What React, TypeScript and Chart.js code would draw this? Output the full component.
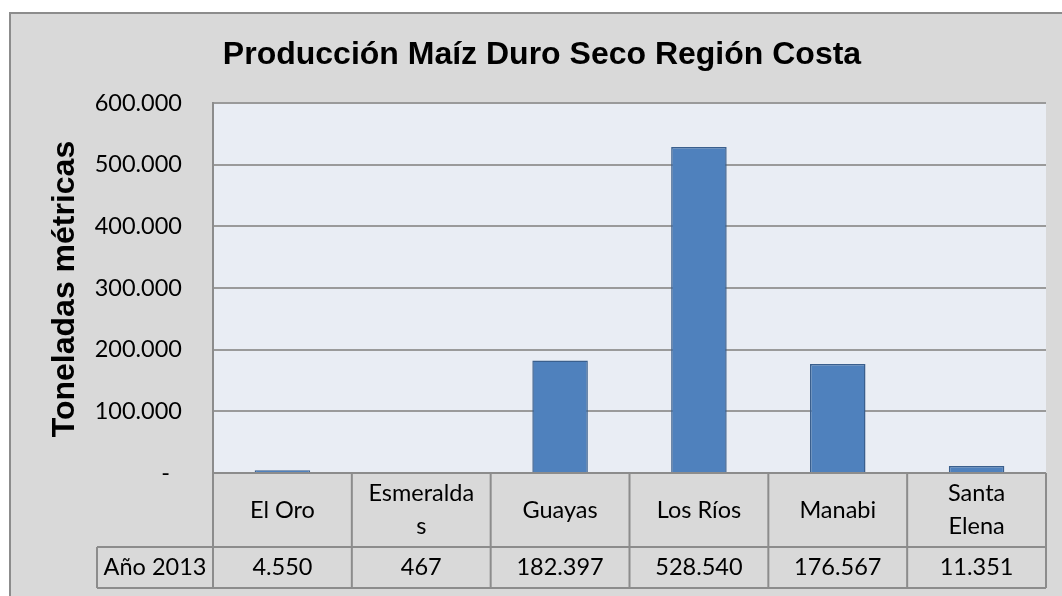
import React, { useEffect, useRef } from "react";
import { Chart, registerables } from "chart.js";

Chart.register(...registerables);

const chartTitle = "Producción Maíz Duro Seco Región Costa";
const yAxisTitle = "Toneladas métricas";
const seriesName = "Año 2013";
const categories = ["El Oro", "Esmeraldas", "Guayas", "Los Ríos", "Manabi", "Santa Elena"];
const categoryLines = [["El Oro"], ["Esmeralda", "s"], ["Guayas"], ["Los Ríos"], ["Manabi"], ["Santa", "Elena"]];
const values = [4550, 467, 182397, 528540, 176567, 11351];
const yMin = 0;
const yMax = 600000;
const yStep = 100000;

const fmt = (n: number) => String(Math.round(n)).replace(/\B(?=(\d{3})+(?!\d))/g, ".");

const TICK_FONT = "Lato";
const TITLE_FONT = "'Liberation Sans', Arial";
const TICK_SIZE = 23.5;

const tablePlugin = {
  id: "excelTable",
  beforeDraw(chart: any) {
    const { ctx, chartArea: a, width, height } = chart;
    ctx.save();
    ctx.fillStyle = "#ffffff";
    ctx.fillRect(0, 0, width, height);
    ctx.fillStyle = "#D9D9D9";
    ctx.fillRect(10, 13, width - 10, height - 13);
    ctx.strokeStyle = "#8C8C8C";
    ctx.lineWidth = 2;
    ctx.beginPath();
    ctx.moveTo(10, height);
    ctx.lineTo(10, 13);
    ctx.lineTo(width, 13);
    ctx.stroke();
    ctx.fillStyle = "#E9EDF4";
    ctx.fillRect(a.left, a.top, a.right - a.left, a.bottom - a.top);
    ctx.restore();
  },
  afterDraw(chart: any) {
    const { ctx, chartArea: a } = chart;
    const xs = chart.scales.x;
    const n = categories.length;
    const cw = (a.right - a.left) / n;
    const rowMid = a.bottom + 74;
    const rowBot = rowMid + 41;
    const headLeft = 97;
    ctx.save();
    // title
    ctx.fillStyle = "#000";
    ctx.font = `bold 32px ${TITLE_FONT}`;
    ctx.textAlign = "center";
    ctx.textBaseline = "alphabetic";
    ctx.fillText(chartTitle, 542, 64);
    // y axis title
    ctx.save();
    ctx.translate(74, (a.top + a.bottom) / 2 + 1);
    ctx.rotate(-Math.PI / 2);
    ctx.font = `bold 32px ${TITLE_FONT}`;
    ctx.fillText(yAxisTitle, 0, 0);
    ctx.restore();
    // table lines
    ctx.strokeStyle = "#8C8C8C";
    ctx.lineWidth = 2;
    ctx.beginPath();
    ctx.moveTo(a.left, a.bottom);
    ctx.lineTo(a.right, a.bottom);
    ctx.moveTo(headLeft, rowMid);
    ctx.lineTo(a.right, rowMid);
    ctx.moveTo(headLeft, rowBot);
    ctx.lineTo(a.right, rowBot);
    ctx.moveTo(headLeft, rowMid);
    ctx.lineTo(headLeft, rowBot);
    ctx.moveTo(a.left, a.top);
    ctx.lineTo(a.left, rowBot);
    for (let i = 0; i < n; i++) {
      const xr = xs.getPixelForValue(i) + cw / 2;
      ctx.moveTo(xr, a.bottom);
      ctx.lineTo(xr, rowBot);
    }
    ctx.stroke();
    // table text
    ctx.fillStyle = "#000";
    ctx.font = `${TICK_SIZE}px ${TICK_FONT}`;
    ctx.textAlign = "center";
    ctx.textBaseline = "middle";
    const catMid = (a.bottom + rowMid) / 2;
    const valMid = (rowMid + rowBot) / 2;
    const lh = 33;
    for (let i = 0; i < n; i++) {
      const cx = xs.getPixelForValue(i);
      const lines = categoryLines[i];
      lines.forEach((t, j) => {
        ctx.fillText(t, cx, catMid + (j - (lines.length - 1) / 2) * lh);
      });
      ctx.fillText(fmt(values[i]), cx, valMid);
    }
    ctx.fillText(seriesName, (headLeft + a.left) / 2, valMid);
    ctx.restore();
  },
};

export default function App() {
  const ref = useRef<HTMLCanvasElement | null>(null);
  useEffect(() => {
    if (!ref.current) return;
    const chart = new Chart(ref.current, {
      type: "bar",
      data: {
        labels: categories,
        datasets: [
          {
            label: seriesName,
            data: values,
            backgroundColor: "#4F81BD",
            borderColor: "#3A5F8D",
            borderWidth: 1.5,
            barPercentage: 0.4,
            categoryPercentage: 1,
          },
        ],
      },
      options: {
        responsive: false,
        animation: false,
        layout: { padding: { left: 10, right: 16, top: 103, bottom: 123 } },
        plugins: { legend: { display: false }, title: { display: false }, tooltip: { enabled: false } },
        scales: {
          x: { display: false },
          y: {
            min: yMin,
            max: yMax,
            afterFit: (s: any) => {
              s.width = 203;
            },
            ticks: {
              stepSize: yStep,
              padding: 31,
              color: "#000",
              font: { family: TICK_FONT, size: TICK_SIZE },
              callback: (v: any) => (Number(v) === 0 ? "-  " : fmt(Number(v))),
            },
            grid: { color: "#9A9A9A", lineWidth: 2, drawTicks: false },
            border: { display: true, color: "#8C8C8C", width: 2 },
          },
        },
      },
      plugins: [tablePlugin],
    });
    return () => chart.destroy();
  }, []);
  return (
    <div style={{ position: "fixed", left: 0, top: 0, width: 1062, height: 596 }}>
      <canvas ref={ref} width={1062} height={596} style={{ display: "block" }} />
    </div>
  );
}
